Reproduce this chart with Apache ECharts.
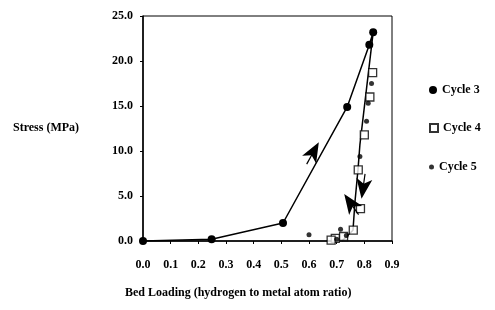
<!DOCTYPE html>
<html>
<head>
<meta charset="utf-8">
<script src="https://cdn.jsdelivr.net/npm/echarts@6/dist/echarts.min.js"></script>
<style>
  html, body { margin: 0; padding: 0; background: #fff; }
  #chart { width: 495px; height: 310px; }
</style>
</head>
<body>
<div id="chart"></div>
<script>
// values
const cycle3Up = [[0, 0], [0.248, 0.2], [0.506, 2.0], [0.738, 14.9], [0.818, 21.8], [0.832, 23.2]];
const cycle3Down = [[0.784, 10.7], [0.777, 7.9], [0.766, 4.3], [0.759, 1.2], [0.719, 0]];
const cycle4 = [[0.830, 18.7], [0.820, 16.0], [0.800, 11.8], [0.778, 7.9], [0.786, 3.6], [0.760, 1.2],
                [0.725, 0.5], [0.695, 0.3], [0.680, 0.1]];
const cycle5 = [[0.826, 17.5], [0.814, 15.3], [0.808, 13.3], [0.784, 9.4], [0.600, 0.7], [0.714, 1.3],
                [0.700, 0.2], [0.735, 0.6]];
// direction arrows: x, y, angle in degrees (counterclockwise from pointing up)
const arrows = [[0.618, 10.0, -29], [0.795, 5.8, 172], [0.748, 4.3, 35]];

const font = 'Liberation Serif';
const chart = echarts.init(document.getElementById('chart'));

// cycle 3 goes up with markers and comes back down without
const cycle3Data = cycle3Up.concat(cycle3Down.map(p => ({ value: p, symbol: 'none' })));

function legendFor(name, icon, top, w, h) {
    return {
        data: [{ name: name, icon: icon }], left: 424, top: top, itemWidth: w, itemHeight: h, itemGap: 8,
        textStyle: { fontFamily: font, fontWeight: 'bold', fontSize: 12, color: '#000' }
    };
}

function renderArrow(params, api) {
    const pt = api.coord([api.value(0), api.value(1)]);
    return {
        type: 'group', x: pt[0], y: pt[1], rotation: api.value(2) * Math.PI / 180,
        children: [
            { type: 'line', shape: { x1: 0, y1: 2, x2: 0, y2: 15 }, style: { stroke: '#000', lineWidth: 1.2 } },
            { type: 'polygon', shape: { points: [[0, -10], [8, 10], [0, 5], [-8, 10]] }, style: { fill: '#000' } }
        ]
    };
}

chart.setOption({
    animation: false,
    backgroundColor: '#fff',
    grid: { left: 143, right: 103, top: 16, bottom: 69, show: true, borderColor: '#000', borderWidth: 1 },
    legend: [
        legendFor('Cycle 3', 'circle', 79, 8, 8),
        legendFor('Cycle 4', 'rect', 117, 8, 8),
        legendFor('Cycle 5', 'circle', 156, 5, 5)
    ],
    xAxis: {
        type: 'value', min: 0, max: 0.9, interval: 0.1,
        axisLine: { lineStyle: { color: '#000', width: 1.5 } },
        axisTick: { length: 3, lineStyle: { color: '#000' } },
        splitLine: { show: false },
        axisLabel: {
            margin: 18, color: '#000', fontFamily: font, fontWeight: 'bold', fontSize: 12,
            formatter: v => v.toFixed(1)
        }
    },
    yAxis: {
        type: 'value', min: 0, max: 25, interval: 5,
        axisLine: { lineStyle: { color: '#000', width: 1.5 } },
        axisTick: { length: 3, lineStyle: { color: '#000' } },
        splitLine: { show: false },
        axisLabel: {
            margin: 10, color: '#000', fontFamily: font, fontWeight: 'bold', fontSize: 12,
            formatter: v => v.toFixed(1)
        }
    },
    graphic: [
        { type: 'text', left: 13, top: 122,
          style: { text: 'Stress (MPa)', font: 'bold 12px "Liberation Serif"', fill: '#000' } },
        { type: 'text', left: 125, top: 287,
          style: { text: 'Bed Loading (hydrogen to metal atom ratio)', font: 'bold 12px "Liberation Serif"', fill: '#000' } }
    ],
    series: [
        {
            name: 'Cycle 3', type: 'line', data: cycle3Data,
            symbol: 'circle', symbolSize: 8, showSymbol: true,
            lineStyle: { color: '#000', width: 1.5 },
            itemStyle: { color: '#000' }, z: 3
        },
        {
            name: 'Cycle 4', type: 'scatter', data: cycle4,
            symbol: 'rect', symbolSize: 8,
            itemStyle: { color: '#fff', borderColor: '#000', borderWidth: 1.3 }, z: 4
        },
        {
            name: 'Cycle 5', type: 'scatter', data: cycle5,
            symbol: 'circle', symbolSize: 5,
            itemStyle: { color: '#000' }, z: 5
        },
        {
            name: 'arrows', type: 'custom', data: arrows, renderItem: renderArrow,
            z: 6, silent: true
        }
    ]
});
</script>
</body>
</html>
